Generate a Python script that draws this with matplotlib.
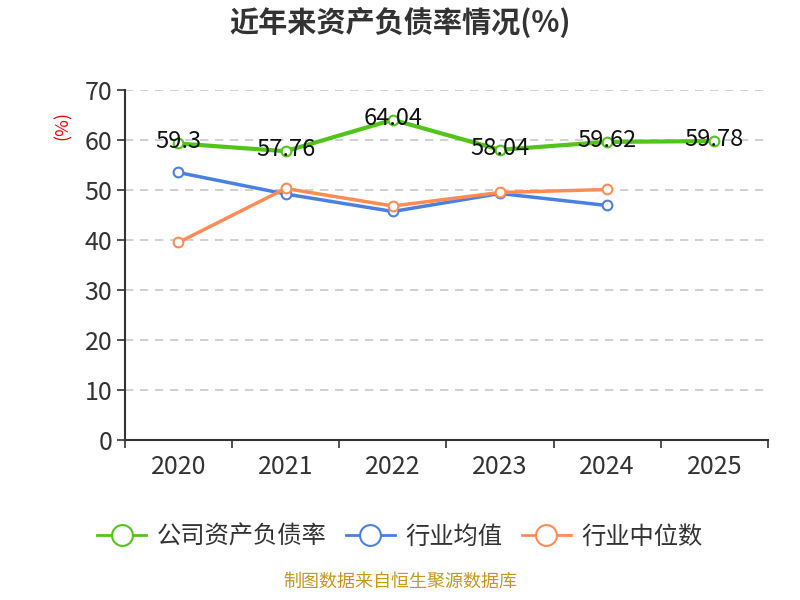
import matplotlib
matplotlib.use("Agg")
import matplotlib.pyplot as plt
from matplotlib.lines import Line2D

plt.rcParams['font.family'] = ['Noto Sans CJK SC', 'DejaVu Sans']

years = ['2020', '2021', '2022', '2023', '2024', '2025']
company = [59.3, 57.76, 64.04, 58.04, 59.62, 59.78]
industry_avg = [53.5, 49.2, 45.7, 49.3, 46.9]
industry_median = [39.5, 50.3, 46.8, 49.5, 50.1]
yticks = [0, 10, 20, 30, 40, 50, 60, 70]

green = '#52c41a'
blue = '#4a80e0'
orange = '#ff8c55'

fig = plt.figure(figsize=(8, 6), dpi=100)
ax = fig.add_axes([0.156, 0.2667, 0.804, 0.5833])

x = list(range(len(years)))
ax.plot(x, company, color=green, lw=3, marker='o', ms=7, mfc='white', mec=green, mew=1.5, zorder=3)
ax.plot(x[:len(industry_avg)], industry_avg, color=blue, lw=2.5, marker='o', ms=7, mfc='white', mec=blue, mew=1.5, zorder=3)
ax.plot(x[:len(industry_median)], industry_median, color=orange, lw=2.5, marker='o', ms=7, mfc='white', mec=orange, mew=1.5, zorder=4)

for xi, v in zip(x, company):
    ax.text(xi, v + 0.3, f'{v:g}', ha='center', va='center', fontsize=17, color='#111111', zorder=5)

ax.set_xlim(-0.5, len(years) - 0.5)
ax.set_ylim(0, 70)
ax.set_yticks(yticks)
ax.set_yticklabels([str(t) for t in yticks], fontsize=18, color='#333333')
ax.set_xticks(x)
ax.set_xticklabels(years, fontsize=18, color='#333333')
ax.set_xticks([i - 0.5 for i in range(len(years) + 1)], minor=True)
ax.tick_params(axis='x', which='major', length=0, pad=10)
ax.tick_params(axis='x', which='minor', length=6, width=1.2, color='#333333', direction='out')
ax.tick_params(axis='y', length=6, width=1.2, color='#333333', pad=3)

ax.grid(axis='y', linestyle=(0, (5, 4)), color='#c8c8c8', lw=1.2)
for s in ['top', 'right']:
    ax.spines[s].set_visible(False)
ax.spines['left'].set_color('#333333')
ax.spines['left'].set_linewidth(1.5)
ax.spines['bottom'].set_color('#333333')
ax.spines['bottom'].set_linewidth(1.5)
ax.set_axisbelow(True)

fig.text(0.078, 0.79, '(%)', color='red', rotation=90, ha='center', va='center', fontsize=13)

fig.suptitle('近年来资产负债率情况(%)', x=0.5, y=0.988, fontsize=21, fontweight='bold', color='#333333')

handles = [
    Line2D([], [], color=green, lw=2, marker='o', ms=15, mfc='white', mec=green, mew=1.5),
    Line2D([], [], color=blue, lw=2, marker='o', ms=15, mfc='white', mec=blue, mew=1.5),
    Line2D([], [], color=orange, lw=2, marker='o', ms=15, mfc='white', mec=orange, mew=1.5),
]
fig.legend(handles, ['公司资产负债率', '行业均值', '行业中位数'], loc='center', bbox_to_anchor=(0.5, 0.105),
           ncol=3, frameon=False, fontsize=17.5, handlelength=2.0, columnspacing=0.8, handletextpad=0.45,
           labelcolor='#333333')

fig.text(0.5, 0.015, '制图数据来自恒生聚源数据库', ha='center', va='bottom', fontsize=13, color='#c8961e')

fig.savefig('out.png', dpi=100)
